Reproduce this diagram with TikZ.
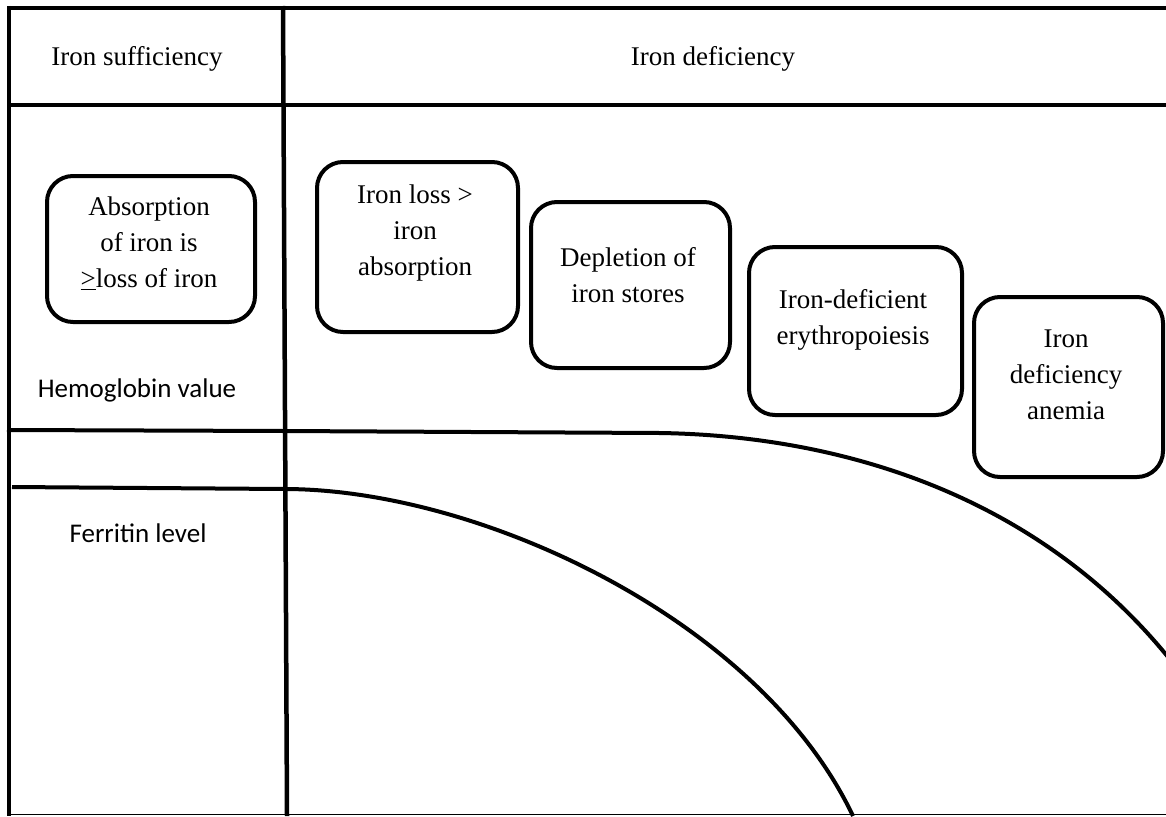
\documentclass[tikz,border=0pt]{standalone}
\usepackage{fontspec}
\setmainfont{Liberation Serif}
\newfontfamily\calibrifont{Carlito}
\begin{document}
\begin{tikzpicture}[x=1pt,y=-1pt,
  gridline/.style={line width=4.5pt},
  curveline/.style={line width=4pt},
  stagebox/.style={draw, line width=4pt, rounded corners=26pt, inner sep=0pt, anchor=north west},
  boxtext/.style={anchor=north, align=center, inner sep=0pt, font=\fontsize{27}{36}\selectfont},
  headtext/.style={anchor=base, inner sep=0pt, font=\fontsize{27}{36}\selectfont},
  sanstext/.style={anchor=base, inner sep=0pt, font=\calibrifont\fontsize{27}{33}\selectfont}]
\useasboundingbox (0,0) rectangle (1166,816);
\fill[white] (0,0) rectangle (1166,816);

% frame and grid
\coordinate (tl) at (9,6);
\coordinate (bl) at (9,816);
\coordinate (tr) at (1166,8);
\draw[gridline] (7,8) -- (tr);
\draw[gridline] (tl) -- (bl);
\draw[gridline] (7,105) -- (1166,105);
\draw[gridline] (283,6) -- (287,816);
\draw[line width=1.5pt] (7,814.5) -- (1166,814.5);

% hemoglobin line
\draw[curveline] (7,430) -- (284,431) -- (660,433)
  .. controls (850,436) and (1040,500) .. (1168,657);
% ferritin line
\draw[curveline] (12,487) -- (284,489)
  .. controls (480,489) and (760,620) .. (853,816);

% headers
\node[headtext] (hs) at (137,65) {Iron sufficiency};
\node[headtext] (hd) at (713,65) {Iron deficiency};
\node[sanstext] (hb) at (137,397) {Hemoglobin value};
\node[sanstext] (fe) at (138,542) {Ferritin level};

% stage boxes
\node[stagebox, minimum width=208pt, minimum height=146pt] (b1) at (45,174) {};
\node[stagebox, minimum width=201pt, minimum height=170pt] (b2) at (315,160) {};
\node[stagebox, minimum width=199pt, minimum height=166pt] (b3) at (529,200) {};
\node[stagebox, minimum width=213pt, minimum height=168pt] (b4) at (747,245) {};
\node[stagebox, minimum width=189pt, minimum height=180pt] (b5) at (972,295) {};

\node[boxtext] (t1) at (149,197) {Absorption\\of iron is\\\underline{>}loss of iron};
\node[boxtext] (t2) at (415,185) {Iron loss >\\iron\\absorption};
\node[boxtext] (t3) at (628,247) {Depletion of\\iron stores};
\node[boxtext] (t4) at (853,289) {Iron-deficient\\erythropoiesis};
\node[boxtext] (t5) at (1066,330) {Iron\\deficiency\\anemia};
\end{tikzpicture}
\end{document}
